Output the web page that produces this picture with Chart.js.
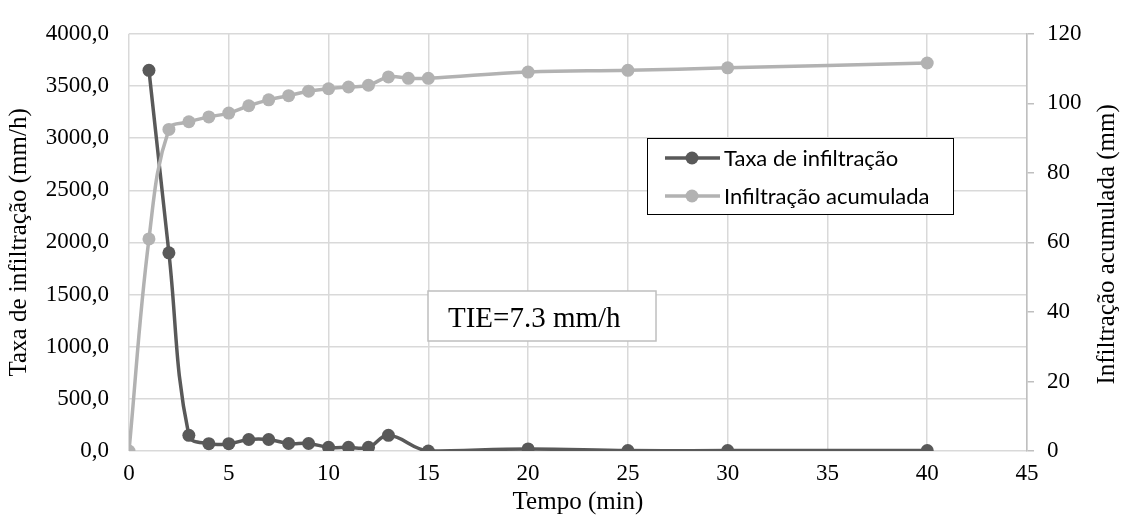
<!DOCTYPE html>
<html>
<head>
<meta charset="utf-8">
<script src="https://cdn.jsdelivr.net/npm/chart.js@4.4.0/dist/chart.umd.min.js"></script>
<style>
  html, body { margin: 0; padding: 0; background: #fff; }
  #wrap { width: 1121px; height: 517px; position: relative; }
</style>
</head>
<body>
<div id="wrap"><canvas id="chart"></canvas></div>
<script>
// Taxa de infiltração (mm/h), eixo esquerdo
const tempoTaxa = [1, 2, 3, 4, 5, 6, 7, 8, 9, 10, 11, 12, 13, 15, 20, 25, 30, 40];
const taxa = [3650, 1900, 150, 70, 70, 110, 110, 72, 72, 35, 35, 35, 150, 0, 20, 4, 4, 4];

// Infiltração acumulada (mm), eixo direito
const tempoAcum = [0, 1, 2, 3, 4, 5, 6, 7, 8, 9, 10, 11, 12, 13, 14, 15, 20, 25, 30, 40];
const acumulada = [0, 61, 92.5, 94.7, 96.1, 97.2, 99.3, 101, 102.2, 103.5, 104.2, 104.7, 105.2, 107.6, 107.2, 107.2, 109, 109.5, 110.2, 111.6];

const xTicks = [0, 45, 5];      // min, max, step
const yLeftTicks = [0, 4000, 500];
const yRightTicks = [0, 120, 20];

const seriesNames = ["Taxa de infiltração", "Infiltração acumulada"];
const seriesColors = ["#595959", "#b2b2b2"];
const anotacao = "TIE=7.3 mm/h";
const tituloDireito = "Infiltração acumulada (mm)";

const SERIF = "Liberation Serif, Times New Roman, serif";
const GRID = "#d9d9d9";

Chart.defaults.font.family = SERIF;
Chart.defaults.color = "#000";

const toPoints = (xs, ys) => xs.map((x, i) => ({ x: x, y: ys[i] }));

// legenda, caixa TIE e título do eixo direito
const extras = {
    id: "extras",
    afterDraw(chart) {
        const ctx = chart.ctx;
        const area = chart.chartArea;
        ctx.save();

        // caixa TIE
        ctx.fillStyle = "#fff";
        ctx.fillRect(428, 291, 228, 50);
        ctx.strokeStyle = "#bfbfbf";
        ctx.lineWidth = 1.5;
        ctx.strokeRect(428, 291, 228, 50);
        ctx.fillStyle = "#000";
        ctx.font = "29px " + SERIF;
        ctx.textBaseline = "alphabetic";
        ctx.textAlign = "left";
        ctx.fillText(anotacao, 448, 327);

        // legenda
        ctx.fillStyle = "#fff";
        ctx.fillRect(647, 138, 306, 76);
        ctx.strokeStyle = "#000";
        ctx.lineWidth = 1;
        ctx.strokeRect(647.5, 138.5, 306, 76);
        const rows = [158, 196];
        ctx.font = "22px Lato, Noto Sans, sans-serif";
        ctx.textBaseline = "middle";
        chart.data.datasets.forEach((ds, i) => {
            const y = rows[i];
            ctx.strokeStyle = ds.borderColor;
            ctx.lineWidth = 3.5;
            ctx.beginPath();
            ctx.moveTo(665, y);
            ctx.lineTo(720, y);
            ctx.stroke();
            ctx.fillStyle = ds.pointBackgroundColor;
            ctx.beginPath();
            ctx.arc(692, y, 6.5, 0, Math.PI * 2);
            ctx.fill();
            ctx.fillStyle = "#000";
            ctx.fillText(ds.label, 724, y + 1);
        });

        // título do eixo direito, lido de baixo para cima
        ctx.translate(1107, (area.top + area.bottom) / 2 + 2);
        ctx.rotate(-Math.PI / 2);
        ctx.textAlign = "center";
        ctx.textBaseline = "middle";
        ctx.font = "25px " + SERIF;
        ctx.fillText(tituloDireito, 0, 0);
        ctx.restore();
    }
};

new Chart(document.getElementById("chart"), {
    type: "line",
    data: {
        datasets: [
            {
                label: seriesNames[0],
                data: toPoints(tempoTaxa, taxa),
                yAxisID: "y",
                borderColor: seriesColors[0],
                backgroundColor: seriesColors[0],
                pointBackgroundColor: seriesColors[0],
                pointBorderWidth: 0,
                pointRadius: 6.5,
                borderWidth: 3.5,
                tension: 0.4,
                order: 1,
            },
            {
                label: seriesNames[1],
                data: toPoints(tempoAcum, acumulada),
                yAxisID: "y1",
                borderColor: seriesColors[1],
                backgroundColor: seriesColors[1],
                pointBackgroundColor: seriesColors[1],
                pointBorderWidth: 0,
                pointRadius: 6.5,
                borderWidth: 3.5,
                tension: 0.4,
                order: 0,
            },
        ],
    },
    options: {
        responsive: true,
        maintainAspectRatio: false,
        animation: false,
        layout: { padding: { top: 24, left: 0, right: 0, bottom: 0 } },
        plugins: {
            legend: { display: false },
            tooltip: { enabled: false },
        },
        scales: {
            x: {
                type: "linear",
                min: xTicks[0],
                max: xTicks[1],
                afterFit(s) { s.height = 66; },
                ticks: {
                    stepSize: xTicks[2],
                    color: "#000",
                    font: { family: SERIF, size: 23 },
                    padding: 9,
                    maxRotation: 0,
                },
                grid: { color: GRID, lineWidth: 1.5, drawTicks: false },
                border: { display: false },
                title: {
                    display: true,
                    text: "Tempo (min)",
                    color: "#000",
                    font: { family: SERIF, size: 25 },
                    padding: { top: 0, bottom: 0 },
                },
            },
            y: {
                position: "left",
                min: yLeftTicks[0],
                max: yLeftTicks[1],
                afterFit(s) { s.width = 129; },
                ticks: {
                    stepSize: yLeftTicks[2],
                    color: "#000",
                    font: { family: SERIF, size: 23 },
                    padding: 20,
                    callback: v => v.toFixed(1).replace(".", ","),
                },
                grid: { color: GRID, lineWidth: 1.5, drawTicks: false },
                border: { display: false },
                title: {
                    display: true,
                    text: "Taxa de infiltração (mm/h)",
                    color: "#000",
                    font: { family: SERIF, size: 25 },
                    padding: { top: 4, bottom: 0 },
                },
            },
            y1: {
                position: "right",
                min: yRightTicks[0],
                max: yRightTicks[1],
                afterFit(s) { s.width = 94; },
                ticks: {
                    stepSize: yRightTicks[2],
                    color: "#000",
                    font: { family: SERIF, size: 23 },
                    padding: 13,
                },
                grid: {
                    drawOnChartArea: false,
                    color: "#bfbfbf",
                    lineWidth: 1.5,
                    tickLength: 7,
                },
                border: { display: true, color: "#bfbfbf", width: 1.5 },
                title: { display: false },
            },
        },
    },
    plugins: [extras],
});
</script>
</body>
</html>
